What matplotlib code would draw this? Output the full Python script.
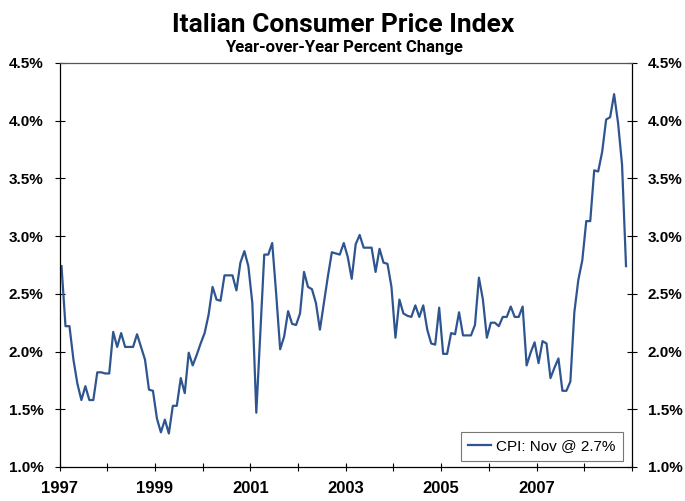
import numpy as np
import matplotlib
matplotlib.use("Agg")
import matplotlib.pyplot as plt

# monthly year-over-year CPI change, Jan 1997 .. Nov 2008
start_year = 1997
cpi = [
    2.74, 2.22, 2.22, 1.93, 1.72, 1.58, 1.70, 1.58, 1.58, 1.82, 1.82, 1.81,   # 1997
    1.81, 2.17, 2.04, 2.16, 2.04, 2.04, 2.04, 2.15, 2.04, 1.93, 1.67, 1.66,   # 1998
    1.42, 1.30, 1.41, 1.29, 1.53, 1.53, 1.77, 1.64, 1.99, 1.88, 1.97, 2.07,   # 1999
    2.16, 2.32, 2.56, 2.45, 2.44, 2.66, 2.66, 2.66, 2.53, 2.77, 2.87, 2.74,   # 2000
    2.42, 1.47, 2.15, 2.84, 2.84, 2.94, 2.50, 2.02, 2.13, 2.35, 2.24, 2.23,   # 2001
    2.33, 2.69, 2.56, 2.54, 2.42, 2.19, 2.42, 2.65, 2.86, 2.85, 2.84, 2.94,   # 2002
    2.82, 2.63, 2.93, 3.01, 2.90, 2.90, 2.90, 2.69, 2.89, 2.77, 2.76, 2.56,   # 2003
    2.12, 2.45, 2.33, 2.31, 2.30, 2.40, 2.30, 2.40, 2.19, 2.07, 2.06, 2.38,   # 2004
    1.98, 1.98, 2.16, 2.15, 2.34, 2.14, 2.14, 2.14, 2.23, 2.64, 2.45, 2.12,   # 2005
    2.25, 2.25, 2.22, 2.30, 2.30, 2.39, 2.30, 2.30, 2.39, 1.88, 1.99, 2.08,   # 2006
    1.90, 2.09, 2.07, 1.77, 1.86, 1.94, 1.66, 1.66, 1.74, 2.34, 2.62, 2.79,   # 2007
    3.13, 3.13, 3.57, 3.56, 3.73, 4.01, 4.03, 4.23, 3.98, 3.62, 2.74,         # 2008
]
year_ticks = list(range(1997, 2010))
year_labels = [str(y) if y % 2 == 1 and y < 2009 else "" for y in year_ticks]
pct_ticks = [1.0, 1.5, 2.0, 2.5, 3.0, 3.5, 4.0, 4.5]
legend_label = "CPI: Nov @ 2.7%"

x = start_year + (np.arange(len(cpi)) + 0.5) / 12

fig = plt.figure(figsize=(6.85, 5.01), dpi=100)
ax = fig.add_axes([0.0869, 0.0679, 0.8357, 0.8064])

ax.plot(x, cpi, color="#2E5590", linewidth=1.6, label=legend_label)

ax.set_xlim(1997, 2009)
ax.set_ylim(1.0, 4.5)

ax.set_xticks(year_ticks)
ax.set_xticklabels(year_labels, fontsize=12, fontweight="bold", family="Liberation Sans")
ax.tick_params(axis="x", direction="inout", length=6, width=0.8, pad=7)

ax.set_yticks(pct_ticks)
ax.set_yticklabels([f"{v:.1f}%" for v in pct_ticks], fontsize=11, fontweight="bold",
                   family="Liberation Sans")
ax.tick_params(axis="y", direction="inout", length=7, width=0.8, pad=8,
               right=True, labelright=True)

for side in ["left", "bottom", "right"]:
    ax.spines[side].set_color("black")
    ax.spines[side].set_linewidth(0.9)
ax.spines["top"].set_color("#555555")
ax.spines["top"].set_linewidth(0.9)

leg = ax.legend(loc="lower right", bbox_to_anchor=(0.984, 0.015), borderaxespad=0,
                frameon=True, fancybox=False,
                handlelength=1.5, handletextpad=0.3, borderpad=0.5,
                prop={"family": "Liberation Sans", "size": 11})
leg.get_frame().set_edgecolor("#555555")
leg.get_frame().set_linewidth(0.8)

fig.text(0.5015, 0.937, "Italian Consumer Price Index", ha="center", va="baseline",
         fontsize=19, fontweight="bold", family="Roboto")
fig.text(0.5015, 0.896, "Year-over-Year Percent Change", ha="center", va="baseline",
         fontsize=12, fontweight="bold", family="Roboto")

fig.savefig("out.png", dpi=100)
